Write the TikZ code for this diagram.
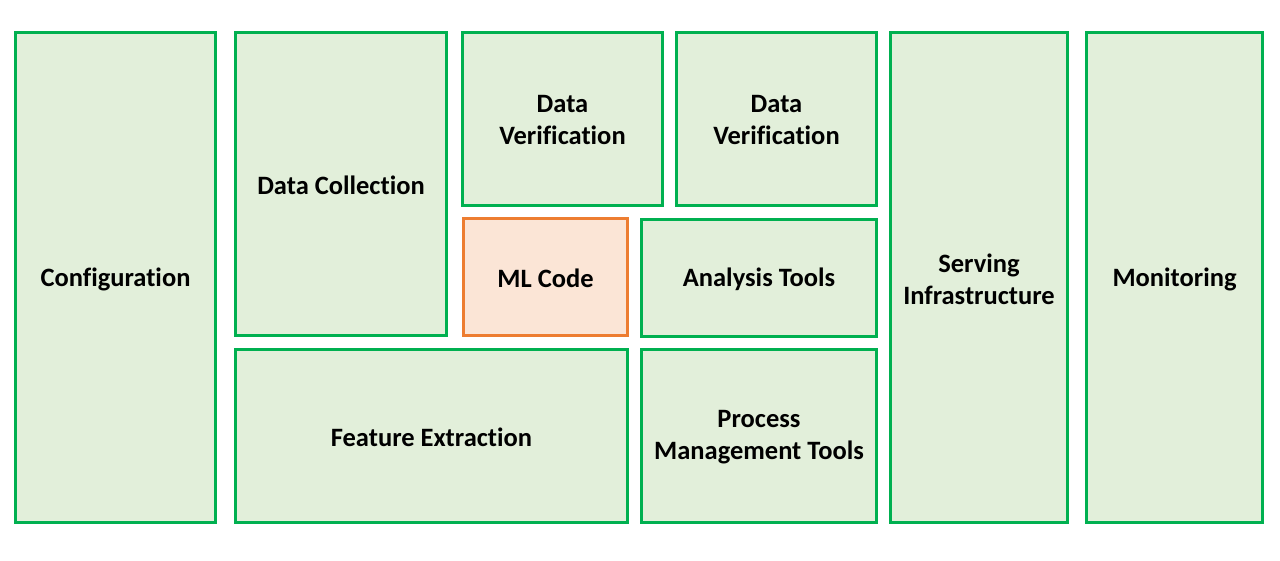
\documentclass[tikz,border=0pt]{standalone}
\usepackage{fontspec}
\setmainfont[Ligatures=NoCommon]{Carlito}
\definecolor{gline}{HTML}{00B050}
\definecolor{gfill}{HTML}{E2EFDA}
\definecolor{oline}{HTML}{ED7D31}
\definecolor{ofill}{HTML}{FBE5D6}
\tikzset{
  blk/.style={draw=gline, fill=gfill, line width=3pt},
  mlblk/.style={blk, draw=oline, fill=ofill},
  lbl/.style={font=\fontsize{26.5}{32}\selectfont\bfseries, align=center, inner sep=0pt, yshift=-1.5pt},
}
\newcommand{\blkbox}[6]{% style, name, x1, y1, x2, y2
  \path[#1] (#3,-#4) rectangle (#5,-#6);
  \coordinate (#2) at ({(#3+#5)/2},{-(#4+#6)/2});
}
\begin{document}
\begin{tikzpicture}[x=1pt,y=1pt]
\useasboundingbox (0,0) rectangle (1280,-560);
\blkbox{blk}{conf}{15.5}{32.5}{215.5}{522.5}
\blkbox{blk}{dc}{235.5}{32.5}{446.5}{335.5}
\blkbox{blk}{dv1}{462.5}{32.5}{662.5}{205.5}
\blkbox{blk}{dv2}{676.5}{32.5}{876.5}{205.5}
\blkbox{mlblk}{ml}{463.5}{218.5}{627.5}{335.5}
\blkbox{blk}{at}{641.5}{219.5}{876.5}{336.5}
\blkbox{blk}{fe}{235.5}{349.5}{627.5}{522.5}
\blkbox{blk}{pm}{641.5}{349.5}{876.5}{522.5}
\blkbox{blk}{si}{890.5}{32.5}{1067.5}{522.5}
\blkbox{blk}{mo}{1086.5}{32.5}{1262.5}{522.5}
\node[lbl] (tconf) at (conf) {Configuration};
\node[lbl] (tdc) at (dc) {Data Collection};
\node[lbl] (tdv1) at (dv1) {Data\\Verification};
\node[lbl] (tdv2) at (dv2) {Data\\Verification};
\node[lbl] (tml) at (ml) {ML Code};
\node[lbl] (tat) at (at) {Analysis Tools};
\node[lbl] (tfe) at (fe) {Feature Extraction};
\node[lbl] (tpm) at (pm) {Process\\Management Tools};
\node[lbl] (tsi) at (si) {Serving\\Infrastructure};
\node[lbl] (tmo) at (mo) {Monitoring};
\end{tikzpicture}
\end{document}
